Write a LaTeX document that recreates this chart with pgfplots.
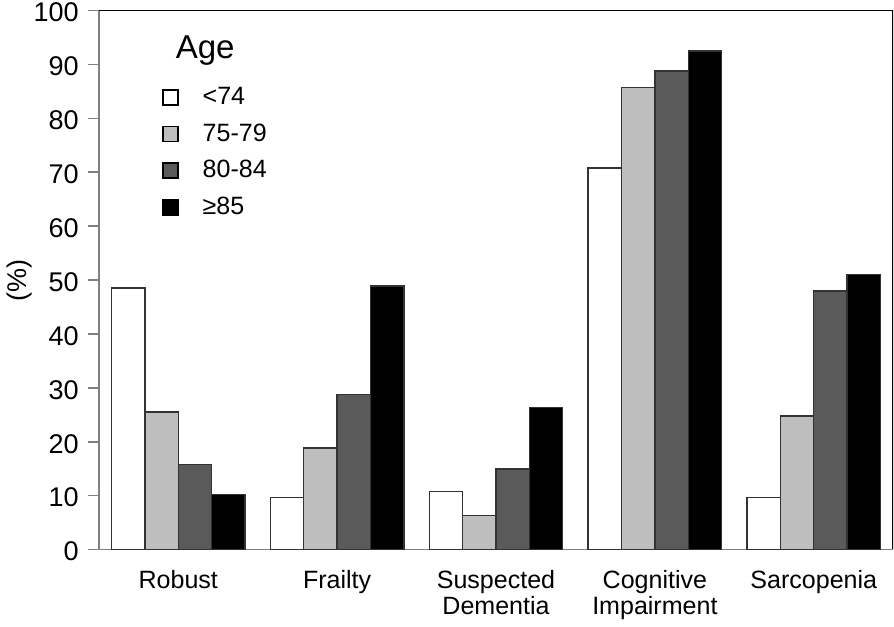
\documentclass[border=0pt]{standalone}
\usepackage{fontspec}
\setmainfont{Liberation Sans}
\usepackage{pgfplots}
\pgfplotsset{compat=1.18}
\definecolor{lgray}{HTML}{BEBEBE}
\definecolor{dgray}{HTML}{5A5A5A}
\definecolor{edge}{HTML}{333333}
\definecolor{spine}{HTML}{808080}
\newcommand{\lgap}{\kern10pt}

\begin{document}
\begin{tikzpicture}
\begin{axis}[
    scale only axis,
    width=396.5pt,
    height=269pt,
    xmin=-0.5, xmax=4.5,
    ymin=0, ymax=100,
    ytick={0,10,...,100},
    xtick={0,1,2,3,4},
    xticklabels={Robust, Frailty, {Suspected\\Dementia}, {Cognitive\\Impairment}, Sarcopenia},
    xticklabel style={align=center, font=\fontsize{12.5}{12.8}\selectfont, yshift=-1.5pt},
    yticklabel style={font=\fontsize{13.5}{15}\selectfont, xshift=-1pt, inner ysep=1.5pt, yshift=-1pt},
    /pgf/number format/assume math mode=true,
    axis x line*=bottom,
    axis y line*=left,
    axis line style={spine, line width=0.8pt, -},
    x tick style={draw=none},
    y tick style={spine, line width=0.8pt},
    tick align=outside,
    major tick length=5.5pt,
    ylabel={(\%)},
    ylabel style={font=\fontsize{13.5}{15}\selectfont, yshift=-6pt},
    ybar, bar width=0.21,
    every axis plot/.append style={draw=edge, line width=0.7pt},
    legend style={draw=none, fill=none, at={(0.079,0.866)}, anchor=north west,
        font=\fontsize{12.5}{14}\selectfont, row sep=4.1pt, inner sep=0pt},
    legend cell align=left,
    legend image code/.code={\draw[#1, line width=0.8pt, draw=black] (0pt,-3.7pt) rectangle (7.5pt,3.7pt);},
]
\addplot[fill=white, bar shift=-0.315] coordinates {(0,48.5) (1,9.7) (2,10.8) (3,70.8) (4,9.7)};
\addplot[fill=lgray, bar shift=-0.105] coordinates {(0,25.5) (1,18.8) (2,6.3) (3,85.7) (4,24.8)};
\addplot[fill=dgray, bar shift=0.105] coordinates {(0,15.8) (1,28.8) (2,14.9) (3,88.8) (4,48.0)};
\addplot[fill=black, bar shift=0.315] coordinates {(0,10.2) (1,48.9) (2,26.4) (3,92.5) (4,51.0)};
\legend{\lgap<74, \lgap75-79, \lgap80-84, \lgap≥85}
\draw[black, line width=0.8pt] (rel axis cs:0,1) -- (rel axis cs:1,1) -- (rel axis cs:1,0);
\node[anchor=west, font=\fontsize{16.5}{18}\selectfont] at (rel axis cs:0.088,0.926) {Age};
\end{axis}
\end{tikzpicture}
\end{document}
